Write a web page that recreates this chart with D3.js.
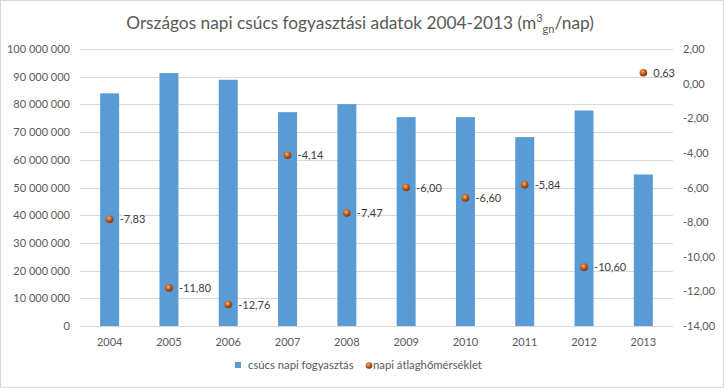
<!DOCTYPE html>
<html><head><meta charset="utf-8">
<script src="https://cdn.jsdelivr.net/npm/d3@7"></script>
<style>body{margin:0;background:#fff}svg{display:block}text{font-family:Lato,"Open Sans",sans-serif}</style>
</head><body>
<svg id="c" width="724" height="388"></svg>
<script>
const years = ["2004","2005","2006","2007","2008","2009","2010","2011","2012","2013"];
const peakConsumption = [84000000, 91300000, 88900000, 77200000, 80100000, 75400000, 75400000, 68200000, 77800000, 54700000];
const avgTemp = [-7.83, -11.80, -12.76, -4.14, -7.47, -6.00, -6.60, -5.84, -10.60, 0.63];
const leftTicks = [0,10000000,20000000,30000000,40000000,50000000,60000000,70000000,80000000,90000000,100000000];
const rightTicks = [2,0,-2,-4,-6,-8,-10,-12,-14];
const seriesNames = ["csúcs napi fogyasztás", "napi átlaghőmérséklet"];

const svg = d3.select("#c");
const W=724,H=388;
const m={left:80,right:51,top:49,bottom:62};
const x = d3.scaleBand().domain(years).range([m.left, W-m.right]).paddingInner(0.68).paddingOuter(0.34);
const yL = d3.scaleLinear().domain([0,100000000]).range([H-m.bottom, m.top]);
const yR = d3.scaleLinear().domain([-14,2]).range([H-m.bottom, m.top]);
const txt="#595959";

svg.append("rect").attr("x",0.5).attr("y",0.5).attr("width",W-1).attr("height",H-1).attr("fill","#fff").attr("stroke","#d9d9d9");

const defs=svg.append("defs");
const g=defs.append("radialGradient").attr("id","ball").attr("cx","40%").attr("cy","35%").attr("r","65%");
g.append("stop").attr("offset","0%").attr("stop-color","#f4b183");
g.append("stop").attr("offset","45%").attr("stop-color","#d0661e");
g.append("stop").attr("offset","100%").attr("stop-color","#7a3408");

// gridlines
svg.append("g").selectAll("line").data(leftTicks).join("line")
  .attr("x1",m.left).attr("x2",W-m.right).attr("y1",d=>Math.round(yL(d))+0.5).attr("y2",d=>Math.round(yL(d))+0.5)
  .attr("stroke","#d9d9d9").attr("stroke-width",1);

const fmtL = d=>d3.format(",")(d).replace(/,/g," ");
const axL = d3.axisLeft(yL).tickValues(leftTicks).tickFormat(fmtL).tickSize(0).tickPadding(10);
const gl=svg.append("g").attr("transform",`translate(${m.left},0)`).call(axL);
gl.select(".domain").remove();
gl.selectAll("text").attr("fill",txt).style("font-size","11px").style("font-family","Lato,sans-serif");

const fmtR = d=>d3.format(".2f")(d).replace(".",",").replace("−","-");
const axR = d3.axisRight(yR).tickValues(rightTicks).tickFormat(fmtR).tickSize(0).tickPadding(10);
const gr=svg.append("g").attr("transform",`translate(${W-m.right},0)`).call(axR);
gr.select(".domain").remove();
gr.selectAll("text").attr("fill",txt).style("font-size","11px").style("font-family","Lato,sans-serif");

const axX = d3.axisBottom(x).tickSize(0).tickPadding(12);
const gx=svg.append("g").attr("transform",`translate(0,${H-m.bottom})`).call(axX);
gx.select(".domain").remove();
gx.selectAll("text").attr("fill",txt).style("font-size","11px").style("font-family","Lato,sans-serif");

// bars
svg.append("g").selectAll("rect").data(years).join("rect")
  .attr("x",(d)=>x(d)).attr("width",x.bandwidth())
  .attr("y",(d,i)=>yL(peakConsumption[i])).attr("height",(d,i)=>yL(0)-yL(peakConsumption[i]))
  .attr("fill","#5b9bd5");

// points
const pg=svg.append("g");
pg.selectAll("circle").data(years).join("circle")
  .attr("cx",d=>x(d)+x.bandwidth()/2).attr("cy",(d,i)=>yR(avgTemp[i])).attr("r",3.8)
  .attr("fill","url(#ball)");
pg.selectAll("text").data(years).join("text")
  .attr("x",d=>x(d)+x.bandwidth()/2+10).attr("y",(d,i)=>yR(avgTemp[i])+4)
  .attr("fill","#404040").style("font-size","11px")
  .text((d,i)=>fmtR(avgTemp[i]));

// title
const t=svg.append("text").attr("x",360).attr("y",29).attr("text-anchor","middle").attr("fill",txt).style("font-size","17.3px");
t.append("tspan").text("Országos napi csúcs fogyasztási adatok 2004-2013 (m");
t.append("tspan").attr("dy",-7).style("font-size","11px").text("3");
t.append("tspan").attr("dy",11).style("font-size","11px").text("gn");
t.append("tspan").attr("dy",-4).text("/nap)");

// legend
const lg=svg.append("g");
lg.append("rect").attr("x",235).attr("y",362).attr("width",6).attr("height",6).attr("fill","#5b9bd5");
lg.append("text").attr("x",248).attr("y",369).attr("fill",txt).style("font-size","11.3px").text(seriesNames[0]);
lg.append("circle").attr("cx",369).attr("cy",365.5).attr("r",3.3).attr("fill","url(#ball)");
lg.append("text").attr("x",373).attr("y",369).attr("fill",txt).style("font-size","11.3px").text(seriesNames[1]);
</script>
</body></html>
